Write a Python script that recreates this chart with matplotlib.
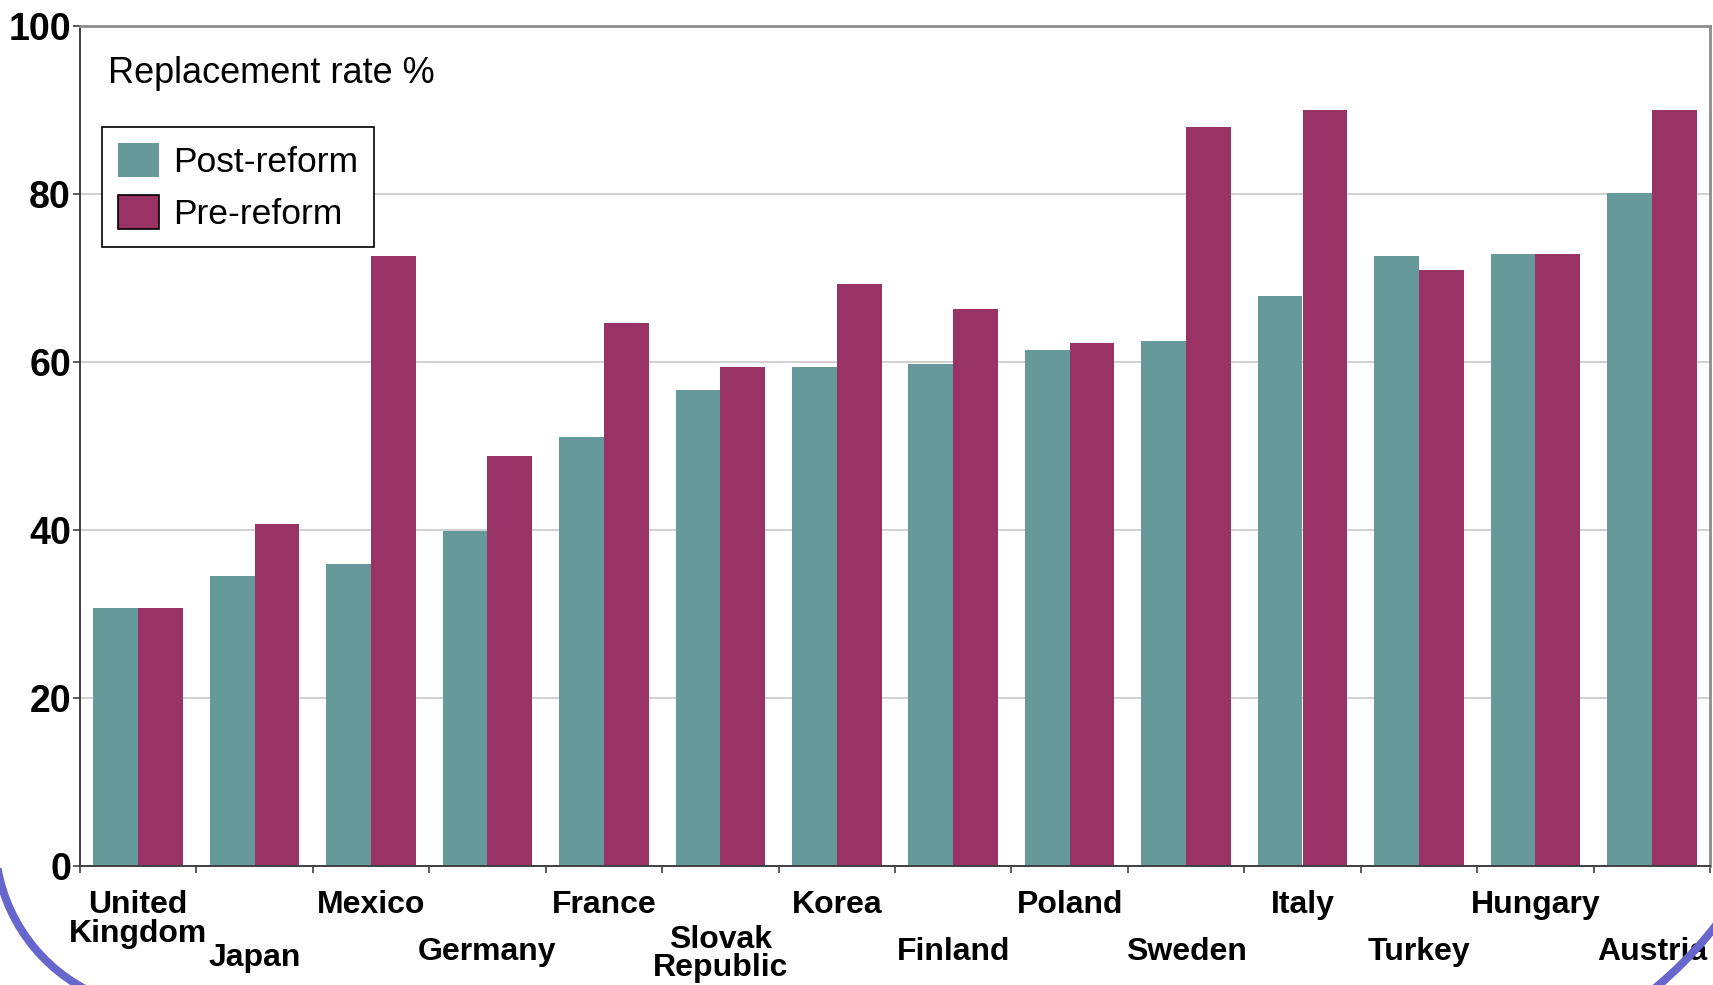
"""
Replacement rates before and after pension reform, by country.
Grouped bars (post vs pre), staggered country labels, slide-style arcs.
"""

import matplotlib

matplotlib.use("Agg")
import matplotlib.pyplot as plt
import numpy as np
from matplotlib.patches import Arc

plt.rcParams["font.family"] = ["Liberation Sans", "DejaVu Sans"]

COUNTRIES = [
    "United\nKingdom", "Japan", "Mexico", "Germany", "France",
    "Slovak\nRepublic", "Korea", "Finland", "Poland", "Sweden",
    "Italy", "Turkey", "Hungary", "Austria",
]
POST_REFORM = [30.7, 34.5, 35.9, 39.9, 51.1, 56.7, 59.4, 59.8, 61.4, 62.5,
               67.9, 72.6, 72.8, 80.1]
PRE_REFORM = [30.7, 40.7, 72.6, 48.8, 64.6, 59.4, 69.3, 66.3, 62.3, 88.0,
              90.0, 71.0, 72.8, 90.0]
Y_TICKS = [0, 20, 40, 60, 80, 100]

TEAL = "#669999"
MAROON = "#993366"

W, H = 1713, 985
fig = plt.figure(figsize=(W / 100, H / 100), dpi=100)
fig.patch.set_facecolor("white")

# axes box in pixels: x 80..1710, y 26..866
ax = fig.add_axes([80 / W, (H - 866) / H, 1630 / W, 840 / H])

x = np.arange(len(COUNTRIES))
bw = 0.385
ax.bar(x - bw / 2, POST_REFORM, bw, color=TEAL, label="Post-reform", zorder=2)
ax.bar(x + bw / 2, PRE_REFORM, bw, color=MAROON, label="Pre-reform", zorder=2)

ax.set_xlim(-0.5, len(COUNTRIES) - 0.5)
ax.set_ylim(0, 100)
ax.set_yticks(Y_TICKS)
ax.set_yticklabels([str(t) for t in Y_TICKS], fontsize=27, fontweight="bold")
ax.yaxis.grid(True, color="#c8c8c8", linewidth=1.2, zorder=0)
ax.set_axisbelow(True)

ax.set_xticks(np.arange(len(COUNTRIES) + 1) - 0.5)
ax.set_xticklabels([])
ax.tick_params(axis="x", direction="out", length=5, width=1.2, color="#404040")
ax.tick_params(axis="y", direction="out", length=5, width=1.2, color="#404040",
               pad=1.5)

for side in ("top", "right"):
    ax.spines[side].set_color("#8c8c8c")
    ax.spines[side].set_linewidth(2)
for side in ("left", "bottom"):
    ax.spines[side].set_color("#404040")
    ax.spines[side].set_linewidth(1.4)

# staggered country labels (even: upper row, odd: lower row)
trans = ax.get_xaxis_transform()
for i, name in enumerate(COUNTRIES):
    if i % 2 == 0:
        y = -0.0637 if "\n" in name else -0.0464
    else:
        y = -0.105 if "\n" in name else -0.102
        if name == "Japan":
            y = -0.11
    ax.text(i, y, name, transform=trans, ha="center", va="center",
            fontsize=23, fontweight="bold", linespacing=0.92)

ax.text(0.0172, 0.944, "Replacement rate %", transform=ax.transAxes,
        ha="left", va="center", fontsize=26)

leg = ax.legend(loc="upper left", bbox_to_anchor=(0.0135, 0.8798),
                borderaxespad=0, fontsize=25.5, frameon=True, fancybox=False,
                edgecolor="black", framealpha=1, handlelength=1.15,
                handleheight=1.1, handletextpad=0.4, labelspacing=0.45,
                borderpad=0.45)
leg.get_frame().set_linewidth(1.2)
leg.legend_handles[1].set_edgecolor("black")
leg.legend_handles[1].set_linewidth(1.2)

# decorative slide-frame arcs in the bottom corners
over = fig.add_axes([0, 0, 1, 1], zorder=5)
over.set_xlim(0, W)
over.set_ylim(0, H)
over.patch.set_alpha(0)
over.axis("off")
over.add_patch(Arc((165, 146), 340, 340, theta1=190, theta2=250,
                   color="#6666cc", linewidth=5.8))
over.add_patch(Arc((1400, 305), 800, 800, theta1=-60, theta2=-20,
                   color="#6666cc", linewidth=5.8))

fig.savefig("out.png", dpi=100)
